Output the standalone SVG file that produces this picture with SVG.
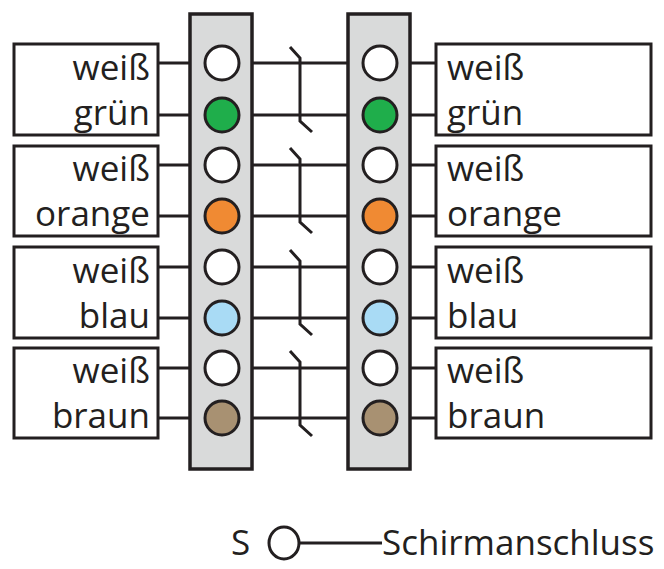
<svg xmlns="http://www.w3.org/2000/svg" width="664" height="569" viewBox="0 0 664 569">
<style>
.box{fill:#fff;stroke:#231f20;stroke-width:3}
.strip{fill:#d9dada;stroke:#231f20;stroke-width:3.5}
.w{stroke:#231f20;stroke-width:3;fill:none}
.c{stroke:#231f20;stroke-width:3}
text{font-family:"Open Sans","Liberation Sans",sans-serif;font-size:35px;fill:#231f20}
.r{text-anchor:end}
</style>
<g id="connectors">
<path class="w" d="M158 63H436M158 115H436M158 165H436M158 216H436M158 267H436M158 318H436M158 368H436M158 418H436"/>
<path class="w" d="M290 47L300 58V121L312 132M290 148L300 159V222L312 233M290 250L300 261V324L312 335M290 351L300 362V425L312 436"/>
<path class="w" d="M299 543H382"/>
</g>
<g id="strip-left"><rect class="strip" x="190" y="14" width="62" height="455"/></g>
<g id="strip-right"><rect class="strip" x="348" y="14" width="62" height="455"/></g>
<g id="box-l1"><rect class="box" x="14" y="44" width="144" height="91"/><text class="r" x="150" y="80">weiß</text><text class="r" x="150" y="125">grün</text></g>
<g id="box-l2"><rect class="box" x="14" y="146" width="144" height="90"/><text class="r" x="150" y="181">weiß</text><text class="r" x="150" y="226">orange</text></g>
<g id="box-l3"><rect class="box" x="14" y="247" width="144" height="91"/><text class="r" x="150" y="283">weiß</text><text class="r" x="150" y="328">blau</text></g>
<g id="box-l4"><rect class="box" x="14" y="348" width="144" height="90"/><text class="r" x="150" y="383">weiß</text><text class="r" x="150" y="428">braun</text></g>
<g id="box-r1"><rect class="box" x="436" y="44" width="215" height="91"/><text x="447" y="80">weiß</text><text x="447" y="125">grün</text></g>
<g id="box-r2"><rect class="box" x="436" y="146" width="215" height="90"/><text x="447" y="181">weiß</text><text x="447" y="226">orange</text></g>
<g id="box-r3"><rect class="box" x="436" y="247" width="215" height="91"/><text x="447" y="283">weiß</text><text x="447" y="328">blau</text></g>
<g id="box-r4"><rect class="box" x="436" y="348" width="215" height="90"/><text x="447" y="383">weiß</text><text x="447" y="428">braun</text></g>
<g id="pins-left">
<ellipse class="c" cx="222" cy="63" rx="17" ry="17" fill="#fff"/>
<ellipse class="c" cx="222" cy="115" rx="17" ry="17" fill="#1fae4b"/>
<ellipse class="c" cx="222" cy="165" rx="17" ry="17" fill="#fff"/>
<ellipse class="c" cx="222" cy="216" rx="17" ry="17" fill="#f08a33"/>
<ellipse class="c" cx="222" cy="267" rx="17" ry="17" fill="#fff"/>
<ellipse class="c" cx="222" cy="318" rx="17" ry="17" fill="#a9dbf5"/>
<ellipse class="c" cx="222" cy="368" rx="17" ry="17" fill="#fff"/>
<ellipse class="c" cx="222" cy="418" rx="17" ry="17" fill="#a89172"/>
</g>
<g id="pins-right">
<ellipse class="c" cx="380" cy="63" rx="17" ry="17" fill="#fff"/>
<ellipse class="c" cx="380" cy="115" rx="17" ry="17" fill="#1fae4b"/>
<ellipse class="c" cx="380" cy="165" rx="17" ry="17" fill="#fff"/>
<ellipse class="c" cx="380" cy="216" rx="17" ry="17" fill="#f08a33"/>
<ellipse class="c" cx="380" cy="267" rx="17" ry="17" fill="#fff"/>
<ellipse class="c" cx="380" cy="318" rx="17" ry="17" fill="#a9dbf5"/>
<ellipse class="c" cx="380" cy="368" rx="17" ry="17" fill="#fff"/>
<ellipse class="c" cx="380" cy="418" rx="17" ry="17" fill="#a89172"/>
</g>
<g id="legend">
<text x="231" y="555">S</text>
<ellipse class="c" cx="284" cy="543" rx="15" ry="16" fill="#fff" stroke-width="2.5"/>
<text x="382" y="555">Schirmanschluss</text>
</g>
</svg>
